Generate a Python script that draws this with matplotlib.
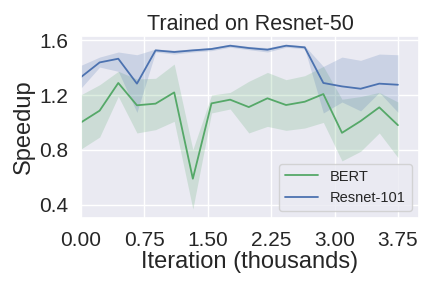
import numpy as np
import matplotlib
matplotlib.use("Agg")
import matplotlib.pyplot as plt
import seaborn as sns

iterations = [0.0, 0.2206, 0.4412, 0.6618, 0.8824, 1.1029, 1.3235, 1.5441, 1.7647,
              1.9853, 2.2059, 2.4265, 2.6471, 2.8676, 3.0882, 3.3088, 3.5294, 3.75]

bert_mean = [1.001, 1.087, 1.289, 1.126, 1.138, 1.220, 0.590, 1.140, 1.167,
             1.113, 1.177, 1.128, 1.152, 1.208, 0.925, 1.011, 1.111, 0.981]
bert_low = [0.807, 0.894, 1.191, 0.924, 0.948, 1.009, 0.369, 1.070, 1.099,
            0.924, 0.972, 0.943, 0.960, 1.001, 0.720, 0.790, 0.924, 0.745]
bert_high = [1.203, 1.276, 1.374, 1.318, 1.323, 1.427, 0.802, 1.201, 1.220,
             1.301, 1.366, 1.313, 1.342, 1.410, 1.170, 1.190, 1.220, 1.150]

resnet_mean = [1.332, 1.439, 1.466, 1.284, 1.527, 1.515, 1.527, 1.537, 1.561,
               1.544, 1.532, 1.561, 1.549, 1.289, 1.264, 1.247, 1.284, 1.276]
resnet_low = [1.252, 1.405, 1.374, 1.074, 1.515, 1.500, 1.515, 1.525, 1.550,
              1.532, 1.515, 1.550, 1.538, 1.070, 1.150, 1.085, 1.220, 1.075]
resnet_high = [1.418, 1.478, 1.515, 1.495, 1.537, 1.528, 1.538, 1.548, 1.572,
               1.556, 1.547, 1.572, 1.560, 1.410, 1.478, 1.454, 1.500, 1.495]

xticks = [0.0, 0.75, 1.5, 2.25, 3.0, 3.75]
yticks = [0.4, 0.8, 1.2, 1.6]

sns.set_theme(style="darkgrid")
plt.rcParams['font.family'] = ['Liberation Sans', 'DejaVu Sans']

green = "#55a868"
blue = "#4c72b0"

fig = plt.figure(figsize=(4.32, 2.88), dpi=100)
ax = fig.add_axes([0.1875, 0.243, 0.7825, 0.633])

ax.fill_between(iterations, bert_low, bert_high, color=green, alpha=0.2, linewidth=0)
ax.plot(iterations, bert_mean, color=green, lw=1.3, label="BERT")
ax.fill_between(iterations, resnet_low, resnet_high, color=blue, alpha=0.2, linewidth=0)
ax.plot(iterations, resnet_mean, color=blue, lw=1.3, label="Resnet-101")

ax.set_xlim(0, 4.0)
ax.set_ylim(0.303, 1.634)
ax.set_xticks(xticks)
ax.set_xticklabels([f"{t:.2f}" for t in xticks])
ax.set_yticks(yticks)
ax.set_yticklabels([f"{t:.1f}" for t in yticks])
ax.tick_params(labelsize=15, pad=3)
ax.set_xlabel("Iteration (thousands)", fontsize=17, labelpad=1)
ax.set_ylabel("Speedup", fontsize=17, labelpad=3)
ax.set_title("Trained on Resnet-50", fontsize=15.5, pad=4)
ax.legend(loc="lower right", fontsize=10.5, handlelength=2.3)

fig.savefig("out.png", dpi=100)
